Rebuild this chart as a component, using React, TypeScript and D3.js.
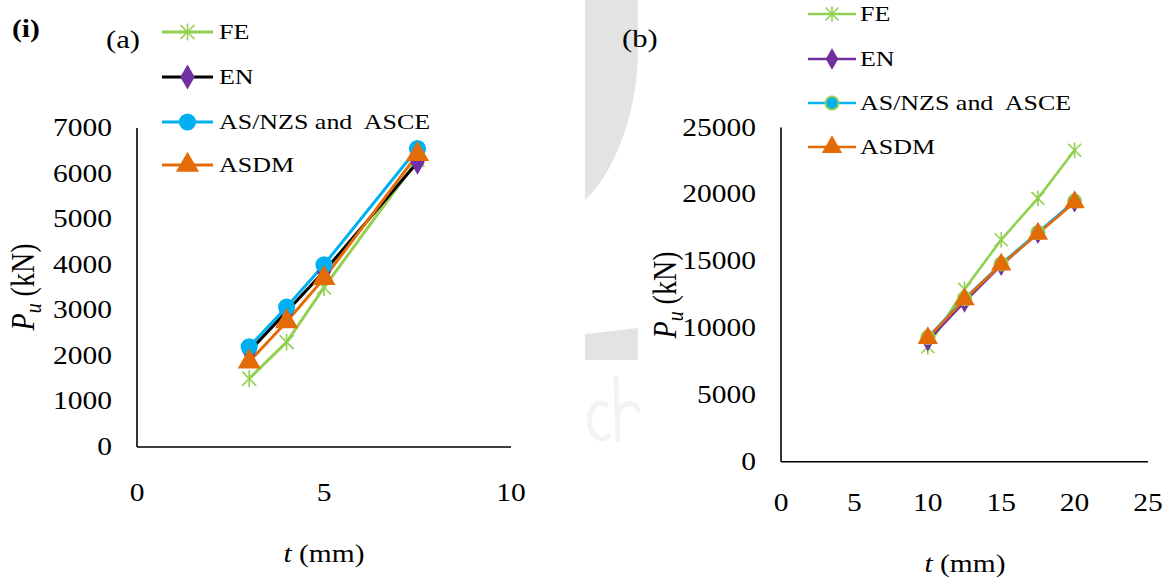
import React from "react";
import * as d3 from "d3";

// panel (a)
const tA = [3, 4, 5, 7.5];
const feA = [1500, 2300, 3500, 6300];
const enA = [2100, 2970, 3850, 6250];
const asA = [2200, 3070, 4000, 6550];
const asdmA = [1870, 2750, 3700, 6420];
const xTicksA = [0, 5, 10];
const yTicksA = [0, 1000, 2000, 3000, 4000, 5000, 6000, 7000];

// panel (b)
const tB = [10, 12.5, 15, 17.5, 20];
const feB = [8600, 12900, 16600, 19700, 23300];
const enB = [9050, 11950, 14700, 17100, 19450];
const asB = [9300, 12200, 14800, 17150, 19500];
const asdmB = [9250, 12150, 14750, 17050, 19400];
const xTicksB = [0, 5, 10, 15, 20, 25];
const yTicksB = [0, 5000, 10000, 15000, 20000, 25000];

const seriesNames = ["FE", "EN", "AS/NZS and  ASCE", "ASDM"];

const GREEN = "#92D050";
const PURPLE = "#7030A0";
const CYAN = "#00B0F0";
const ORANGE = "#E36C09";
const FONT = "Liberation Serif, Times New Roman, serif";
const SX = 1.18; // the picture is stretched sideways a bit

type Style = {
  line: string;
  fill: string;
  stroke: string;
  shape: string;
  size: number;
};

// text drawn with the horizontal stretch of the original picture
function T(props: {
  x: number;
  y: number;
  size: number;
  anchor?: string;
  bold?: boolean;
  children: React.ReactNode;
}) {
  return (
    <text
      transform={`translate(${props.x},${props.y}) scale(${SX},1)`}
      textAnchor={props.anchor || "start"}
      fontSize={props.size}
      fontWeight={props.bold ? "bold" : "normal"}
      style={{ fontFamily: FONT, whiteSpace: "pre" }}
      fill="#000"
    >
      {props.children}
    </text>
  );
}

function Marker({ x, y, s }: { x: number; y: number; s: Style }) {
  if (s.shape === "star") {
    const r = s.size / 2;
    return (
      <g stroke={s.line} strokeWidth={1.6}>
        <line x1={x - r} y1={y - r} x2={x + r} y2={y + r} />
        <line x1={x - r} y1={y + r} x2={x + r} y2={y - r} />
        <line x1={x} y1={y - r * 1.2} x2={x} y2={y + r * 1.2} />
      </g>
    );
  }
  const type =
    s.shape === "circle"
      ? d3.symbolCircle
      : s.shape === "diamond"
      ? d3.symbolDiamond
      : d3.symbolTriangle;
  const path = d3.symbol().type(type).size(s.size * s.size * 0.8)();
  return (
    <path
      d={path || ""}
      transform={`translate(${x},${y})`}
      fill={s.fill}
      stroke={s.stroke}
      strokeWidth={s.stroke === "none" ? 0 : 2}
    />
  );
}

type PanelProps = {
  t: number[];
  data: number[][];
  styles: Style[];
  xDomain: [number, number];
  yDomain: [number, number];
  xRange: [number, number];
  yRange: [number, number];
  xTicks: number[];
  yTicks: number[];
  xLabelY: number;
  xTitle: [number, number];
  yTitle: [number, number];
  legend: { x0: number; x1: number; tx: number; ys: number[] };
  lineWidth: number;
};

function Panel(p: PanelProps) {
  const x = d3.scaleLinear().domain(p.xDomain).range(p.xRange);
  const y = d3.scaleLinear().domain(p.yDomain).range(p.yRange);
  const gen = d3
    .line<number>()
    .x((_, i) => x(p.t[i]))
    .y((v) => y(v));
  const [x0, x1] = p.xRange;
  const [yb, yt] = p.yRange;
  return (
    <g>
      <line x1={x0} y1={yt} x2={x0} y2={yb} stroke="#000" strokeWidth={1.6} />
      <line x1={x0} y1={yb} x2={x1} y2={yb} stroke="#000" strokeWidth={1.6} />
      {p.yTicks.map((v) => (
        <T key={v} x={x0 - 25} y={y(v) + 8} size={25} anchor="end">
          {v}
        </T>
      ))}
      {p.xTicks.map((v) => (
        <T key={v} x={x(v)} y={p.xLabelY + 8} size={25} anchor="middle">
          {v}
        </T>
      ))}
      <T x={p.xTitle[0]} y={p.xTitle[1]} size={25} anchor="middle">
        <tspan fontStyle="italic">t</tspan> (mm)
      </T>
      <text
        transform={`translate(${p.yTitle[0]},${p.yTitle[1]}) rotate(-90) scale(1,${SX})`}
        textAnchor="middle"
        fontSize={28}
        style={{ fontFamily: FONT }}
      >
        <tspan fontStyle="italic">P</tspan>
        <tspan fontStyle="italic" fontSize={20} dy={6}>
          u
        </tspan>
        <tspan dy={-6}> (kN)</tspan>
      </text>
      {p.data.map((d, k) => (
        <path
          key={"l" + k}
          d={gen(d) || ""}
          fill="none"
          stroke={p.styles[k].line}
          strokeWidth={p.lineWidth}
          strokeLinejoin="round"
        />
      ))}
      {p.data.map((d, k) => (
        <g key={"m" + k}>
          {d.map((v, i) => (
            <Marker key={i} x={x(p.t[i])} y={y(v)} s={p.styles[k]} />
          ))}
        </g>
      ))}
      {seriesNames.map((name, k) => (
        <g key={name}>
          <line
            x1={p.legend.x0}
            x2={p.legend.x1}
            y1={p.legend.ys[k]}
            y2={p.legend.ys[k]}
            stroke={p.styles[k].line}
            strokeWidth={p.lineWidth}
          />
          <Marker x={(p.legend.x0 + p.legend.x1) / 2} y={p.legend.ys[k]} s={p.styles[k]} />
          <T x={p.legend.tx} y={p.legend.ys[k] + 7} size={22}>
            {name}
          </T>
        </g>
      ))}
    </g>
  );
}

export default function App() {
  const stylesA: Style[] = [
    { line: GREEN, fill: "none", stroke: "none", shape: "star", size: 14 },
    { line: "#000", fill: PURPLE, stroke: "none", shape: "diamond", size: 15 },
    { line: CYAN, fill: CYAN, stroke: "none", shape: "circle", size: 17 },
    { line: ORANGE, fill: ORANGE, stroke: "none", shape: "triangle", size: 17 },
  ];
  const stylesB: Style[] = [
    { line: GREEN, fill: "none", stroke: "none", shape: "star", size: 13 },
    { line: PURPLE, fill: PURPLE, stroke: "none", shape: "diamond", size: 13 },
    { line: CYAN, fill: CYAN, stroke: GREEN, shape: "circle", size: 13 },
    { line: ORANGE, fill: ORANGE, stroke: "none", shape: "triangle", size: 15 },
  ];
  return (
    <svg
      width={1176}
      height={577}
      style={{ position: "absolute", left: 0, top: 0, background: "#fff" }}
    >
      <rect width={1176} height={577} fill="#fff" />
      {/* faint watermark behind the page */}
      <path d="M585,0 L638,0 L638,55 C636,120 612,175 585,200 Z" fill="#e3e3e3" />
      <path d="M585,334 L638,328 L638,360 L585,360 Z" fill="#e3e3e3" />
      <g stroke="#f3f3f3" strokeWidth={5} fill="none" strokeLinecap="round">
        <path d="M606,405 C596,398 588,410 590,425 C592,438 602,442 608,436" />
        <path d="M616,378 L618,440 M618,412 C624,400 636,402 638,410" />
      </g>
      <T x={12} y={37} size={25} bold>
        (i)
      </T>
      <T x={106} y={48} size={26}>
        (a)
      </T>
      <T x={622} y={47} size={26}>
        (b)
      </T>
      <Panel
        t={tA}
        data={[feA, enA, asA, asdmA]}
        styles={stylesA}
        xDomain={[0, 10]}
        yDomain={[0, 7000]}
        xRange={[137, 511]}
        yRange={[447, 128]}
        xTicks={xTicksA}
        yTicks={yTicksA}
        xLabelY={493}
        xTitle={[324, 562]}
        yTitle={[34, 287]}
        legend={{ x0: 162, x1: 213, tx: 219, ys: [32, 77, 122, 165] }}
        lineWidth={3}
      />
      <Panel
        t={tB}
        data={[feB, enB, asB, asdmB]}
        styles={stylesB}
        xDomain={[0, 25]}
        yDomain={[0, 25000]}
        xRange={[781, 1148]}
        yRange={[461.7, 127.5]}
        xTicks={xTicksB}
        yTicks={yTicksB}
        xLabelY={503}
        xTitle={[965, 572]}
        yTitle={[676, 295]}
        legend={{ x0: 808, x1: 856, tx: 860, ys: [14, 59, 103, 147] }}
        lineWidth={2.6}
      />
    </svg>
  );
}
